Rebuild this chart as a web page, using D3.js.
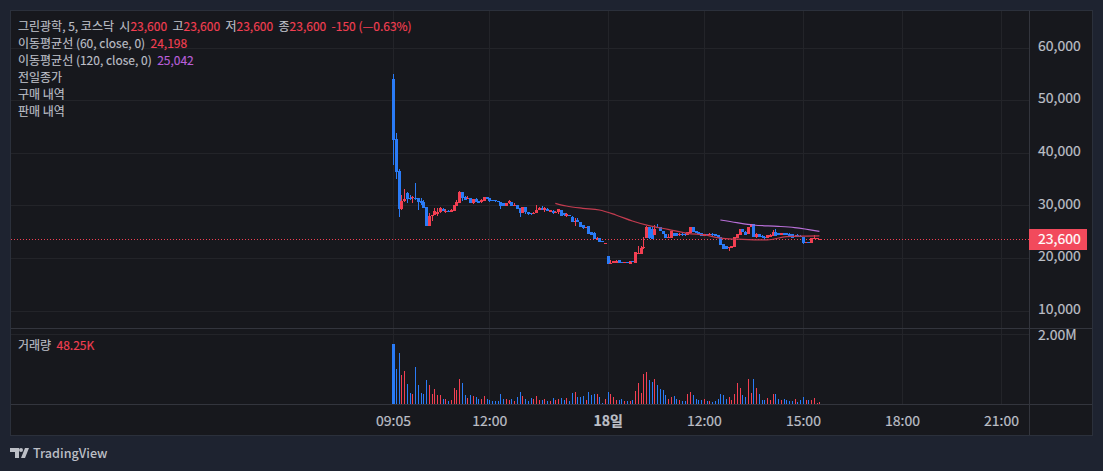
<!DOCTYPE html>
<html>
<head>
<meta charset="utf-8">
<title>그린광학</title>
<script src="https://cdn.jsdelivr.net/npm/d3@7"></script>
<style>
  html, body { margin: 0; padding: 0; background: #1e2330; overflow: hidden; }
  svg { display: block; }
  text { font-family: "Noto Sans CJK KR", "Noto Sans", sans-serif; }
</style>
</head>
<body>
<svg id="chart" width="1103" height="471"></svg>
<script>
// candle values, one entry per 5 minute bar
var opens = [
  54010,42600,36520,29300,30820,32340,31400,31300,31300,31390,
  30820,30630,29680,26130,27970,28160,28350,28730,29300,28900,
  28950,28730,28920,29870,30440,32530,31580,31300,31390,30440,
  31200,30820,30630,30820,31580,31390,31010,30950,30820,30630,
  30440,29930,30380,30570,29930,30060,29550,28540,29680,28670,
  28540,28280,28470,29050,29550,29050,29300,28790,28980,28670,
  28670,29110,28470,28030,28100,27840,26900,27270,26760,26260,
  25750,26000,24990,24800,23720,23720,23210,22700,20360,18840,
  18970,19100,19540,19200,19100,19150,18840,19480,19030,20740,
  20740,21800,23720,25940,25500,24360,25940,25880,25120,24610,
  23850,23850,24670,24670,24300,24500,24550,24360,24740,25810,
  25120,24990,24740,24230,24480,24360,24480,24480,24360,23980,
  22580,22200,21820,21820,22080,23850,24360,25500,24990,24480,
  25810,26390,23910,24550,24230,24000,23720,23910,24230,24860,
  24740,24360,24670,24670,24610,24480,23980,24360,24230,23980,
  22840,23090,22840,23600,23750,23600
];
var highs = [
  54960,43680,36900,31960,33100,32600,31960,31770,34240,31400,
  31390,31010,29680,28470,28160,29420,29420,29620,29490,29300,
  29100,29300,30060,31000,32720,32530,31770,31770,31400,31200,
  31390,30900,31200,31580,31580,31400,31010,31010,30820,30700,
  30440,30440,31010,30700,30380,30060,29550,29680,29680,28800,
  28600,28790,30060,29680,29800,29680,29400,29100,29100,28850,
  29300,29110,28500,28470,28160,27900,27520,27520,26760,26260,
  25880,26000,24990,24990,24040,23800,23250,22800,20360,19540,
  19350,19600,19540,19290,19290,19220,19350,19480,21060,22260,
  22300,23910,26100,25940,25900,26260,26450,25880,25120,24610,
  24480,25120,24800,24700,24670,24670,24670,24860,25810,25810,
  25200,25000,24740,24480,24480,24800,24740,24480,24360,23980,
  22580,22200,22080,22300,23980,24610,25500,25500,25200,25940,
  26390,26390,24670,24550,24400,24230,24360,24480,25370,25500,
  24800,24800,24800,24800,24670,24480,24300,24480,24300,23980,
  23090,23090,23850,24360,23850,23600
];
var lows = [
  37660,35000,27840,29110,30700,30380,31000,30380,31000,29110,
  30060,29550,26130,26130,27020,28160,28000,28600,28920,28600,
  28700,28730,28920,29870,30440,30900,31000,31260,30440,30250,
  30630,30440,30440,30820,31200,30630,30820,30700,30630,29360,
  29930,29930,30300,29930,29930,29300,27840,28540,28400,28100,
  28200,28280,28470,29050,29050,28790,28920,28790,28280,28600,
  28400,28030,28000,27840,27900,26760,26130,26760,25940,25500,
  25750,24610,24360,23530,23410,23090,23000,22700,18840,18840,
  18970,19100,19100,19000,19000,19000,18840,19160,19030,20740,
  20740,21700,23720,23600,23600,24360,25620,25120,24480,23850,
  23850,23850,24230,24230,24230,24230,24230,24360,24740,24860,
  24670,24550,24230,24230,24200,24360,24200,24230,23850,22460,
  21760,21760,21380,21820,22080,23850,24360,24860,24360,24480,
  25810,23980,23720,23980,23720,23470,23720,23910,24230,24230,
  24360,24360,24360,24360,24230,23850,23980,23980,23980,22580,
  22840,22840,22840,23600,23600,23600
];
var closes = [
  42420,36400,29300,30820,31200,31200,31150,31580,31150,30630,
  30380,29550,26130,27970,28160,28920,28730,29490,28920,29000,
  28900,29110,30060,30630,32530,31390,31010,31450,30440,31200,
  30630,30440,31010,31580,31200,30820,30820,30760,30630,29930,
  29930,30440,30820,29930,30050,29300,28540,29680,28670,28280,
  28280,28500,29110,29550,29050,29430,28920,29050,28600,28790,
  29300,28030,28160,28280,28000,26760,27020,26760,25940,25620,
  25880,24610,24360,23530,23850,23090,23090,22770,18840,18970,
  19350,19350,19100,19100,19150,19100,19350,19160,21060,20930,
  21820,22140,25940,23700,23600,25430,25620,25120,24480,23850,
  24040,25120,24230,24230,24600,24300,24300,24860,25810,24860,
  24670,24550,24230,24480,24290,24610,24300,24230,23850,22460,
  21760,21760,22080,22200,23980,24610,25500,24860,24360,25940,
  26390,23980,24550,23980,23910,23850,24360,24360,24860,24230,
  24360,24740,24360,24360,24230,23850,24230,23980,23980,22840,
  23090,22840,23850,23850,23750,23600
];
// volume in thousands
var volumes = [
  1690,986,1437,817,930,563,310,282,1042,535,
  310,282,676,535,282,423,254,254,141,141,
  85,113,451,394,704,592,254,169,254,225,
  197,141,141,225,141,113,85,85,85,282,
  141,141,113,141,85,197,338,225,141,85,
  169,141,225,113,113,141,85,85,169,113,
  141,169,113,169,85,310,338,197,197,225,
  113,338,254,282,282,197,20,141,338,282,
  197,113,113,141,85,85,85,113,366,592,
  310,845,901,676,620,704,535,423,394,254,
  141,197,225,141,113,85,85,282,338,254,
  141,113,113,141,85,85,56,85,141,282,
  254,141,197,113,282,592,451,254,197,704,
  310,704,451,282,113,113,169,113,282,282,
  141,113,141,113,85,85,141,56,113,197,
  113,113,113,169,20,48.25
];

// moving averages, read at a handful of bars
var ma60Bars = [59,63,69,75,81,87,93,100,107,113,120,127,136,143,149,155];
var ma60Values = [30380,29870,29430,29110,28160,27020,26130,25430,24670,24360,23720,23530,23410,24040,24150,24198];
var ma120Bars = [119,125,131,140,146,155];
var ma120Values = [27210,26700,26260,26000,25750,25042];

var priceTicks = [10000,20000,30000,40000,50000,60000];
var lastPrice = 23600;
var volumeTicks = [2000];
var timeBars = [0,35,78,113,149,185,221];
var timeLabels = ['09:05','12:00','18일','12:00','15:00','18:00','21:00'];

var upColor = '#f23f52',
    downColor = '#2a7bf6',
    textColor = '#bcbfc6',
    gridColor = '#232429',
    lineColor = '#33353d',
    paneColor = '#17181d';

var svg = d3.select('#chart');

// frame and panes
svg.append('rect').attr('x', 10.5).attr('y', 10.5).attr('width', 1082).attr('height', 425)
  .attr('fill', paneColor).attr('stroke', '#2b303b');

var x = d3.scaleLinear().domain([0, 221]).range([393, 1001]);
var y = d3.scaleLinear().domain([10000, 60000]).range([310.5, 47.5]);
var yVol = d3.scaleLinear().domain([0, 2000]).range([404, 333.5]);

// grid
svg.append('g').selectAll('line').data(timeBars).join('line')
  .attr('x1', function (d) { return Math.round(x(d)) + 0.5; })
  .attr('x2', function (d) { return Math.round(x(d)) + 0.5; })
  .attr('y1', 11).attr('y2', 404)
  .attr('stroke', gridColor);
svg.append('g').selectAll('line').data(priceTicks).join('line')
  .attr('x1', 11).attr('x2', 1029)
  .attr('y1', function (d) { return Math.round(y(d)) + 0.5; })
  .attr('y2', function (d) { return Math.round(y(d)) + 0.5; })
  .attr('stroke', gridColor);
svg.append('g').selectAll('line').data(volumeTicks).join('line')
  .attr('x1', 11).attr('x2', 1029)
  .attr('y1', function (d) { return Math.round(yVol(d)) + 0.5; })
  .attr('y2', function (d) { return Math.round(yVol(d)) + 0.5; })
  .attr('stroke', gridColor);

// pane separators
svg.append('line').attr('x1', 11).attr('x2', 1092).attr('y1', 328.5).attr('y2', 328.5).attr('stroke', lineColor);
svg.append('line').attr('x1', 11).attr('x2', 1092).attr('y1', 404.5).attr('y2', 404.5).attr('stroke', lineColor);
svg.append('line').attr('x1', 1029.5).attr('x2', 1029.5).attr('y1', 11).attr('y2', 435).attr('stroke', lineColor);

function isUp(i) { return closes[i] >= opens[i]; }
function barColor(i) { return isUp(i) ? upColor : downColor; }

// last price line
svg.append('line').attr('x1', 11).attr('x2', 1029)
  .attr('y1', Math.round(y(lastPrice)) + 0.5).attr('y2', Math.round(y(lastPrice)) + 0.5)
  .attr('stroke', upColor).attr('stroke-dasharray', '1 2');

// volume
svg.append('g').attr('shape-rendering', 'crispEdges').selectAll('rect').data(volumes).join('rect')
  .attr('x', function (d, i) { return Math.round(x(i)) - (i == 0 ? 1 : 0); })
  .attr('width', function (d, i) { return i == 0 ? 3 : 1; })
  .attr('y', function (d) { return yVol(d); })
  .attr('height', function (d) { return yVol(0) - yVol(d); })
  .attr('fill', function (d, i) { return barColor(i); });

// candles
var candles = svg.append('g').attr('shape-rendering', 'crispEdges');
candles.selectAll('line').data(opens).join('line')
  .attr('x1', function (d, i) { return Math.round(x(i)) + 0.5; })
  .attr('x2', function (d, i) { return Math.round(x(i)) + 0.5; })
  .attr('y1', function (d, i) { return y(highs[i]); })
  .attr('y2', function (d, i) { return y(lows[i]); })
  .attr('stroke', function (d, i) { return barColor(i); });
candles.selectAll('rect').data(opens).join('rect')
  .attr('x', function (d, i) { return Math.round(x(i)) - 1; })
  .attr('width', 3)
  .attr('y', function (d, i) { return y(Math.max(opens[i], closes[i])); })
  .attr('height', function (d, i) { return Math.max(1, Math.abs(y(opens[i]) - y(closes[i]))); })
  .attr('fill', function (d, i) { return barColor(i); });

// moving averages
function maLine(bars, values, color) {
  var line = d3.line()
    .x(function (d) { return x(d); })
    .y(function (d, i) { return y(values[i]); })
    .curve(d3.curveMonotoneX);
  svg.append('path').attr('d', line(bars)).attr('fill', 'none').attr('stroke', color).attr('stroke-width', 1.2);
}
maLine(ma60Bars, ma60Values, '#c43c50');
maLine(ma120Bars, ma120Values, '#b86fd8');

// axes
function styleAxis(g) {
  g.select('.domain').remove();
  g.selectAll('.tick line').remove();
  g.selectAll('text').attr('fill', textColor).attr('stroke', textColor).attr('stroke-width', 0.2).style('font-size', '14px');
}
svg.append('g').attr('transform', 'translate(1029,0)')
  .call(d3.axisRight(y).tickValues(priceTicks).tickFormat(d3.format(',')).tickSize(0).tickPadding(9))
  .call(styleAxis)
  .selectAll('text').attr('dy', '0.2em');
svg.append('g').attr('transform', 'translate(1029,0)')
  .call(d3.axisRight(yVol).tickValues(volumeTicks).tickFormat(function () { return '2.00M'; }).tickSize(0).tickPadding(9))
  .call(styleAxis)
  .selectAll('text').attr('dy', '0.42em');
var timeAxis = svg.append('g').attr('transform', 'translate(0,405)')
  .call(d3.axisBottom(x).tickValues(timeBars).tickFormat(function (d, i) { return timeLabels[i]; }).tickSize(0).tickPadding(11))
  .call(styleAxis);
timeAxis.selectAll('text').filter(function (d) { return d == 78; }).style('font-weight', 700);

// last price tag
svg.append('rect').attr('x', 1029).attr('y', 229).attr('width', 58).attr('height', 21).attr('fill', '#f24a5c');
svg.append('text').attr('x', 1038).attr('y', 244).attr('fill', '#ffffff').attr('stroke', '#ffffff').attr('stroke-width', 0.2)
  .style('font-size', '14px').text(d3.format(',')(lastPrice));

// legend
var red = '#f23f52';
function legendRow(yPos, parts) {
  var t = svg.append('text').attr('x', 18).attr('y', yPos).style('font-size', '12px');
  parts.forEach(function (p) {
    t.append('tspan').attr('fill', p[1]).attr('stroke', p[1]).attr('stroke-width', 0.15).style('white-space', 'pre').text(p[0]);
  });
}
legendRow(31, [['그린광학, 5, 코스닥  시', textColor], ['23,600', red], ['  고', textColor], ['23,600', red], ['  저', textColor], ['23,600', red], ['  종', textColor], ['23,600', red], ['  -150 (—0.63%)', red]]);
legendRow(48, [['이동평균선 (60, close, 0)  ', textColor], ['24,198', red]]);
legendRow(65, [['이동평균선 (120, close, 0)  ', textColor], ['25,042', '#b95fd9']]);
legendRow(82, [['전일종가', textColor]]);
legendRow(99, [['구매 내역', textColor]]);
legendRow(116, [['판매 내역', textColor]]);
legendRow(350, [['거래량  ', textColor], ['48.25K', red]]);

// footer logo
svg.append('path').attr('fill', textColor)
  .attr('d', 'M10 448h9v10h-4v-6h-5z M21 448a2 2 0 1 1 0 4a2 2 0 1 1 0-4z M25 448h4l-4 10h-4z');
svg.append('text').attr('x', 33).attr('y', 458).attr('fill', textColor)
  .style('font-size', '12.6px').style('font-weight', 500).text('TradingView');
</script>
</body>
</html>
